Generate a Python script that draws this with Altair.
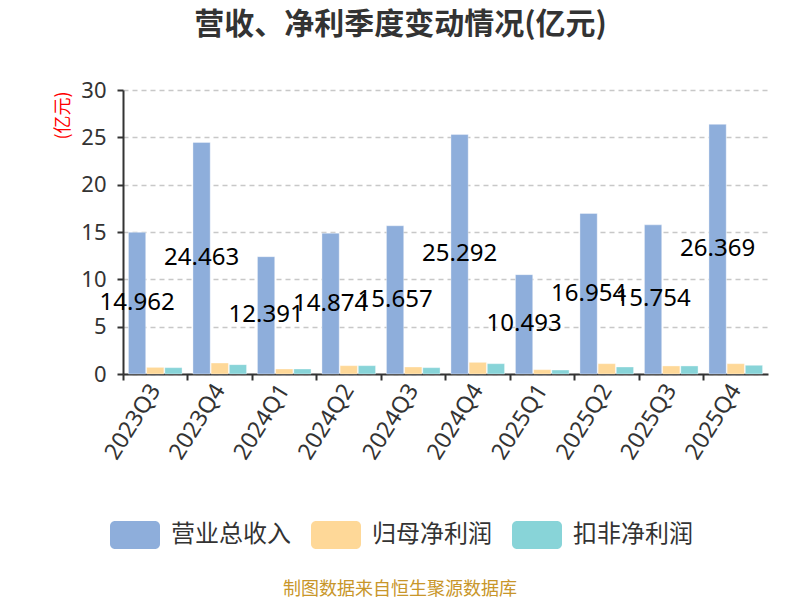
import altair as alt
import pandas as pd

# Quarterly figures, in 100-million yuan
quarters = ["2023Q3", "2023Q4", "2024Q1", "2024Q2", "2024Q3",
            "2024Q4", "2025Q1", "2025Q2", "2025Q3", "2025Q4"]
revenue = [14.962, 24.463, 12.391, 14.874, 15.657, 25.292, 10.493, 16.954, 15.754, 26.369]
net_parent = [0.70, 1.16, 0.53, 0.88, 0.74, 1.23, 0.46, 1.09, 0.85, 1.09]
net_deducted = [0.67, 0.99, 0.53, 0.88, 0.67, 1.09, 0.42, 0.74, 0.85, 0.92]

series = ["营业总收入", "归母净利润", "扣非净利润"]
colors = ["#8eaedb", "#fed898", "#88d4d8"]

rows = []
for i, q in enumerate(quarters):
    for s, vals in zip(series, [revenue, net_parent, net_deducted]):
        rows.append({"quarter": q, "series": s, "value": vals[i]})
df = pd.DataFrame(rows)
label_df = pd.DataFrame({"quarter": quarters, "series": series[0], "value": revenue})

FONT = "Noto Sans CJK SC"
NUM_FONT = "Noto Sans"

x_enc = alt.X(
    "quarter:N",
    sort=quarters,
    scale=alt.Scale(paddingInner=0, paddingOuter=0),
    axis=alt.Axis(
        title=None,
        labelAngle=-58,
        labelAlign="right",
        labelBaseline="middle",
        labelFontSize=23,
        labelFont=NUM_FONT,
        labelColor="#333333",
        labelPadding=6,
        bandPosition=0,
        tickSize=6,
        tickColor="#333333",
        tickWidth=2,
        domainColor="#333333",
        domainWidth=2,
        grid=False,
    ),
)
xoff = alt.XOffset(
    "series:N",
    sort=series,
    scale=alt.Scale(domain=series, paddingInner=0.05, paddingOuter=0.3),
)

bars = alt.Chart(df).mark_bar(stroke="white", strokeWidth=0.6, strokeOpacity=0.6).encode(
    x=x_enc,
    xOffset=xoff,
    y=alt.Y(
        "value:Q",
        scale=alt.Scale(domain=[0, 30], nice=False),
        axis=alt.Axis(
            values=[0, 5, 10, 15, 20, 25, 30],
            title="(亿元)",
            titleColor="red",
            titleFont=FONT,
            titleFontSize=18,
            titleFontWeight="normal",
            titleAngle=-90,
            titleX=-60,
            titleY=25,
            titleAlign="center",
            titleBaseline="middle",
            labelFontSize=22,
            labelFont=NUM_FONT,
            labelColor="#333333",
            labelPadding=11,
            tickSize=6,
            tickColor="#333333",
            tickWidth=2,
            domainColor="#333333",
            domainWidth=2,
            gridColor="#c8c8c8",
            gridDash=[5, 4],
            gridWidth=1.5,
        ),
    ),
    color=alt.Color(
        "series:N",
        sort=series,
        scale=alt.Scale(domain=series, range=colors),
        legend=alt.Legend(
            title=None,
            orient="none",
            direction="horizontal",
            legendX=-13,
            legendY=420,
            symbolType="M -1,-0.36 A 0.2,0.2 0 0 1 -0.8,-0.56 L 0.8,-0.56 A 0.2,0.2 0 0 1 1,-0.36 L 1,0.36 A 0.2,0.2 0 0 1 0.8,0.56 L -0.8,0.56 A 0.2,0.2 0 0 1 -1,0.36 Z",
            symbolSize=2500,
            symbolStrokeWidth=0,
            symbolOpacity=1,
            labelFont=FONT,
            labelFontSize=24,
            labelColor="#333333",
            labelOffset=11,
            columnPadding=20,
        ),
    ),
)

labels = alt.Chart(label_df).transform_calculate(
    mid="datum.value / 2"
).mark_text(font=NUM_FONT, fontSize=24, color="black", baseline="middle", align="center").encode(
    x=alt.X("quarter:N", sort=quarters),
    xOffset=alt.XOffset("series:N", sort=series),
    y="mid:Q",
    text=alt.Text("value:Q", format=".3f"),
)

footer = alt.Chart(pd.DataFrame({"t": ["制图数据来自恒生聚源数据库"]})).mark_text(
    font=FONT, fontSize=18, color="#c8962a", align="center", baseline="middle"
).encode(x=alt.value(277), y=alt.value(500), text="t:N")

chart = alt.layer(bars, labels, footer).properties(
    width=645,
    height=284,
    padding={"left": 123, "top": 90, "right": 32, "bottom": 226},
    autosize=alt.AutoSizeParams(type="none"),
    title=alt.TitleParams(
        "营收、净利季度变动情况(亿元)",
        font=FONT,
        fontSize=30,
        fontWeight="bold",
        color="#333333",
        anchor="middle",
        dx=-45,
        offset=39,
    ),
).configure_view(stroke=None)

chart.save("out.html", embed_options={"renderer": "svg", "actions": False})
